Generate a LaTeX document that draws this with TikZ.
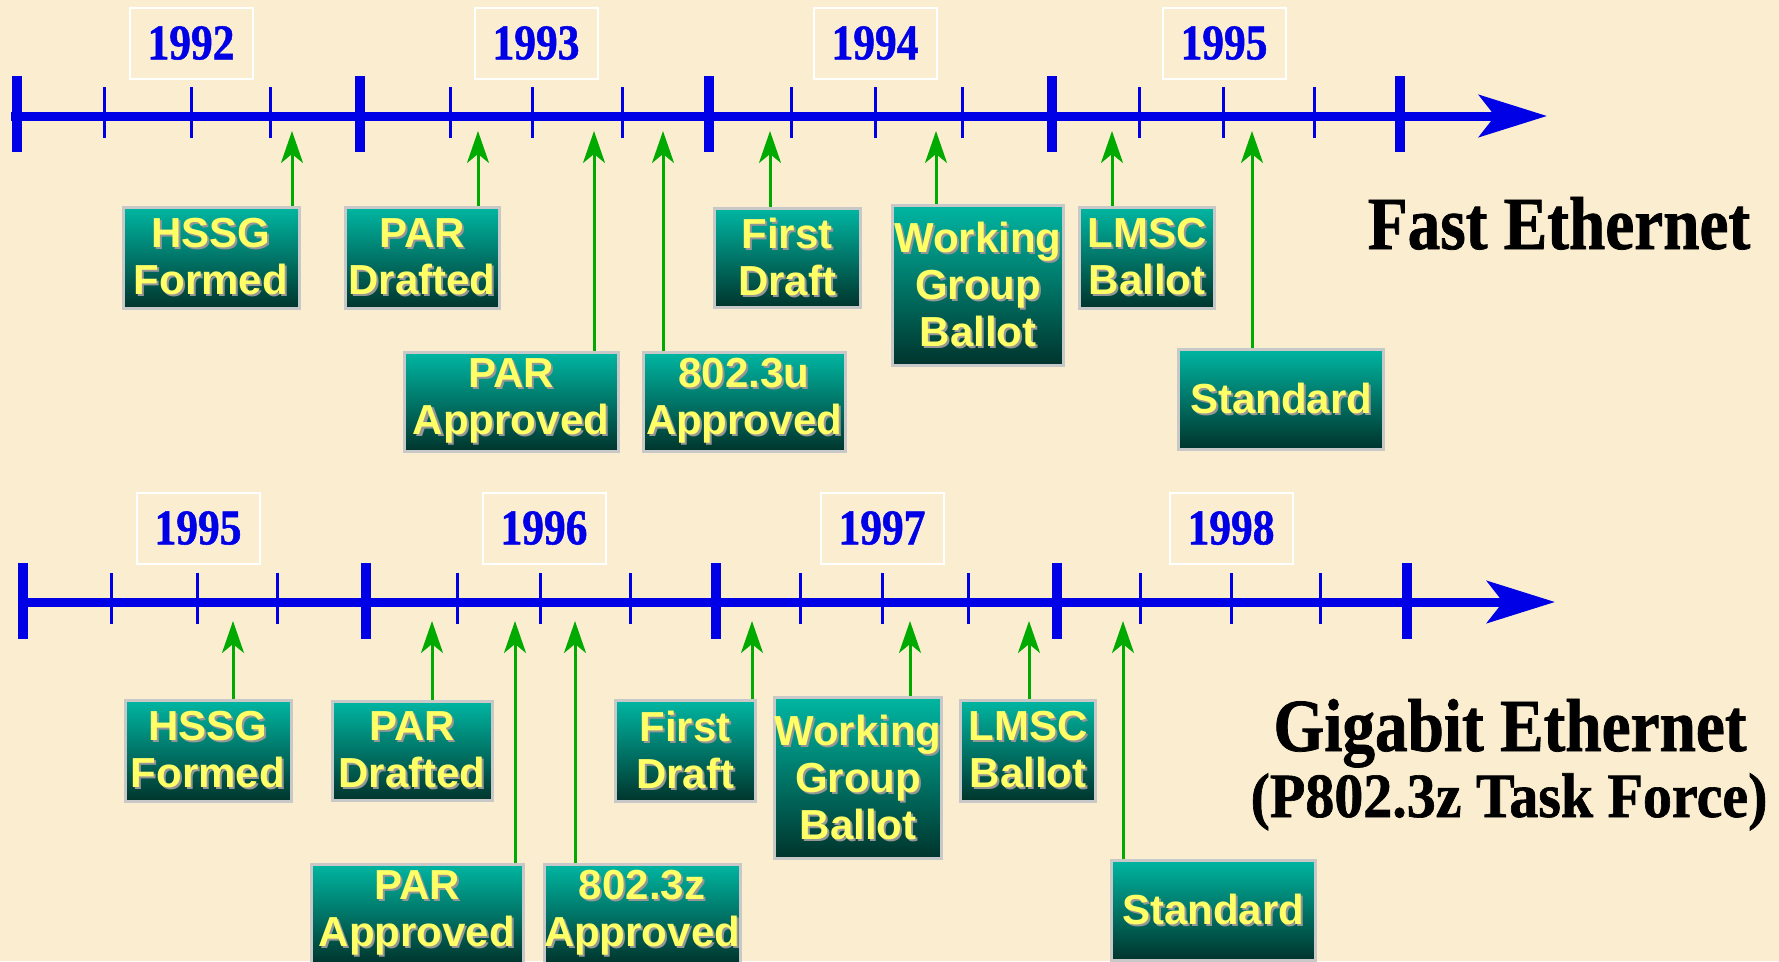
\documentclass[tikz,border=0pt]{standalone}
\usepackage{fontspec}
\usepackage{xcolor}
\usepackage{tikz}
\usetikzlibrary{arrows.meta,positioning}
\setmainfont{Liberation Serif}
\newfontfamily\evfont{Liberation Sans}
\newfontfamily\yrfont{Liberation Serif}[FakeStretch=0.87,FakeBold=1]
\newfontfamily\subfont{Liberation Serif}[FakeStretch=0.92,FakeBold=1]
\definecolor{parchment}{RGB}{250,237,208}
\definecolor{axisblue}{RGB}{0,0,230}
\definecolor{boxtop}{RGB}{0,182,162}
\definecolor{boxbot}{RGB}{0,52,44}
\definecolor{boxrim}{RGB}{200,200,200}
\definecolor{evyellow}{RGB}{255,255,102}
\definecolor{evshadow}{RGB}{150,150,150}
\definecolor{ptrgreen}{RGB}{0,170,0}
\newcommand{\sh}[1]{\leavevmode\rlap{\kern2pt\raisebox{-2pt}{\color{evshadow}#1}}{\color{evyellow}#1}}

\begin{document}
\begin{tikzpicture}[x=1pt,y=-1pt,
    evt/.style={draw=boxrim, line width=3pt, top color=boxtop, bottom color=boxbot,
      inner sep=0pt, align=center, font=\evfont\bfseries\fontsize{42}{47}\selectfont},
    yr/.style={draw=white, line width=2pt, minimum width=123pt, minimum height=71pt,
      inner sep=0pt, text=axisblue, font=\yrfont\bfseries\fontsize{50}{50}\selectfont},
    ttl/.style={anchor=base, font=\yrfont\bfseries\fontsize{75}{75}\selectfont},
    axis/.style={axisblue, line width=9pt, -{Stealth[length=68pt,width=42pt,inset=16pt]}},
    major/.style={axisblue, line width=10pt},
    minor/.style={axisblue, line width=3pt},
    ptr/.style={ptrgreen, line width=3pt, -{Stealth[length=32pt,width=22pt,inset=9pt]}}]
  \useasboundingbox (0,0) rectangle (1779,961);
  \fill[parchment] (0,0) rectangle (1779,961);

  % Fast Ethernet timeline
  \draw[axis] (11,116) -- (1547,116);
  \foreach \x in {17,360,709,1052,1400}
    \draw[major] (\x,76) -- (\x,152);
  \foreach \x in {104,191,270,450,532,622,791,875,962,1139,1223,1314}
    \draw[minor] (\x,87) -- (\x,138);
  \node[yr] (y1992) at (191,43) {1992};
  \node[yr] (y1993) at (536,43) {1993};
  \node[yr] (y1994) at (875,43) {1994};
  \node[yr] (y1995a) at (1224,43) {1995};

  \node[evt, minimum width=176pt, minimum height=101pt] (fHSSG) at (211,258) {\sh{HSSG}\\\sh{Formed}};
  \node[evt, minimum width=154pt, minimum height=101pt] (fPARd) at (422,258) {\sh{PAR}\\\sh{Drafted}};
  \node[evt, minimum width=214pt, minimum height=99pt] (fPARa) at (511,402) {\sh{PAR}\\\sh{Approved}};
  \node[evt, minimum width=202pt, minimum height=99pt] (fStdu) at (744,402) {\sh{802.3u}\\\sh{Approved}};
  \node[evt, minimum width=146pt, minimum height=99pt] (fFirst) at (787,258) {\sh{First}\\\sh{Draft}};
  \node[evt, minimum width=171pt, minimum height=160pt] (fWGB) at (978,285) {\sh{Working}\\\sh{Group}\\\sh{Ballot}};
  \node[evt, minimum width=135pt, minimum height=101pt] (fLMSC) at (1147,258) {\sh{LMSC}\\\sh{Ballot}};
  \node[evt, minimum width=205pt, minimum height=100pt] (fStd) at (1281,399) {\sh{Standard}};
  \foreach \n/\x in {fHSSG/292,fPARd/478,fPARa/594,fStdu/663,fFirst/770,fWGB/936,fLMSC/1112,fStd/1252}
  {
    \coordinate (\n-tip) at (\x,131);
    \draw[ptr] (\n.north -| \n-tip) -- (\n-tip);
  }
  \node[ttl] (fastttl) at (1559,249) {Fast Ethernet};

  % Gigabit Ethernet timeline
  \draw[axis] (18,602) -- (1555,602);
  \foreach \x in {23,366,716,1057,1407}
    \draw[major] (\x,563) -- (\x,639);
  \foreach \x in {111,197,277,457,540,630,800,882,968,1140,1231,1320}
    \draw[minor] (\x,573) -- (\x,624);
  \node[yr] (y1995b) at (198,528) {1995};
  \node[yr] (y1996) at (544,528) {1996};
  \node[yr] (y1997) at (882,528) {1997};
  \node[yr] (y1998) at (1231,528) {1998};

  \node[evt, minimum width=166pt, minimum height=101pt] (gHSSG) at (208,751) {\sh{HSSG}\\\sh{Formed}};
  \node[evt, minimum width=160pt, minimum height=99pt] (gPARd) at (412,751) {\sh{PAR}\\\sh{Drafted}};
  \node[evt, minimum width=212pt, minimum height=100pt] (gPARa) at (417,914) {\sh{PAR}\\\sh{Approved}};
  \node[evt, minimum width=193pt, minimum height=100pt] (gStdz) at (642,914) {\sh{802.3z}\\\sh{Approved}};
  \node[evt, minimum width=140pt, minimum height=101pt] (gFirst) at (685,751) {\sh{First}\\\sh{Draft}};
  \node[evt, minimum width=167pt, minimum height=161pt] (gWGB) at (858,778) {\sh{Working}\\\sh{Group}\\\sh{Ballot}};
  \node[evt, minimum width=135pt, minimum height=101pt] (gLMSC) at (1028,751) {\sh{LMSC}\\\sh{Ballot}};
  \node[evt, minimum width=204pt, minimum height=100pt] (gStd) at (1213,910) {\sh{Standard}};
  \foreach \n/\x in {gHSSG/233,gPARd/432,gPARa/515,gStdz/575,gFirst/752,gWGB/910,gLMSC/1029,gStd/1123}
  {
    \coordinate (\n-tip) at (\x,621);
    \draw[ptr] (\n.north -| \n-tip) -- (\n-tip);
  }
  \node[ttl] (gigattl) at (1510,751) {Gigabit Ethernet};
  \node[anchor=base, font=\subfont\bfseries\fontsize{63}{63}\selectfont] (gigasub) at (1509,817) {(P802.3z Task Force)};
\end{tikzpicture}
\end{document}
